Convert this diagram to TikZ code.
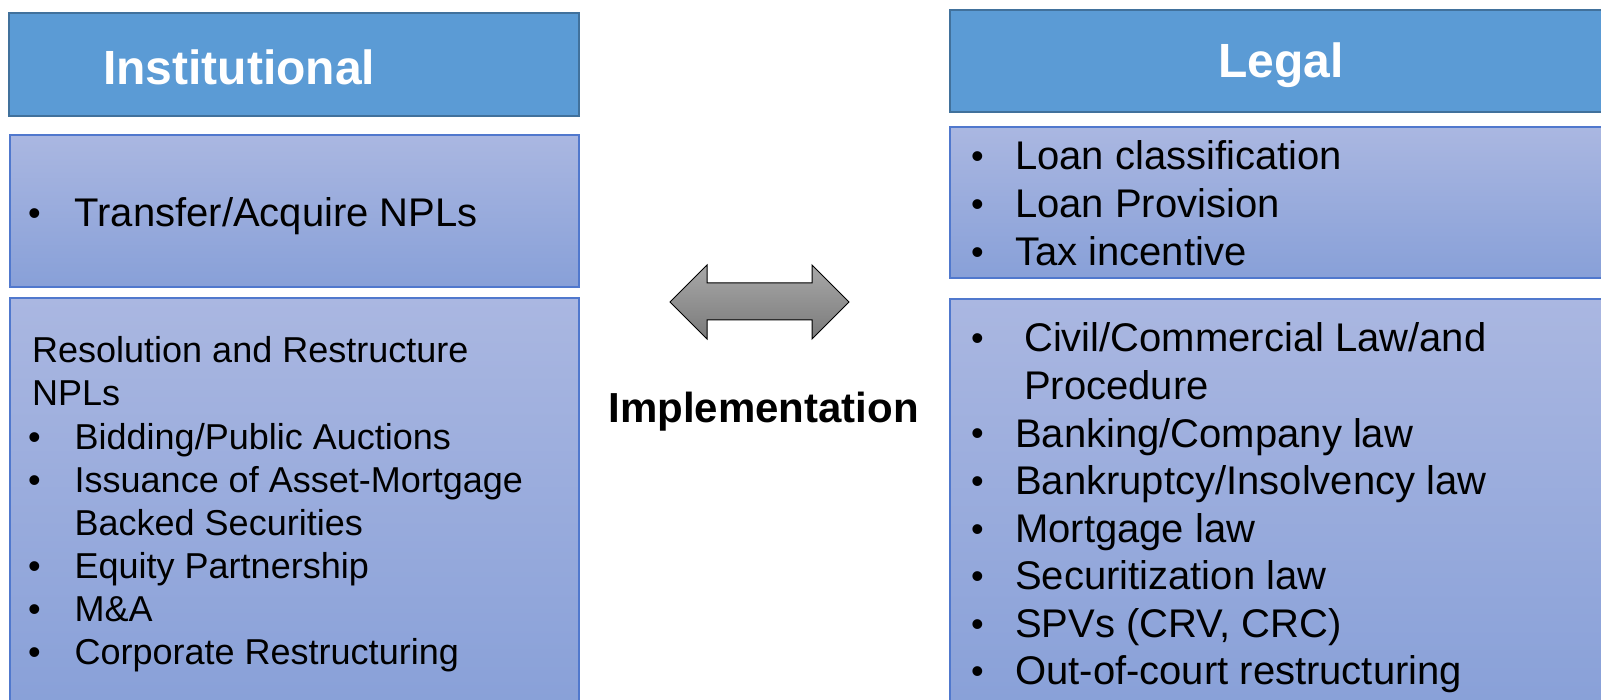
\documentclass[tikz,border=0pt]{standalone}
\usepackage{fontspec}
\setmainfont{Liberation Sans}
\definecolor{hdrfill}{RGB}{91,155,213}
\definecolor{hdrline}{RGB}{65,113,156}
\definecolor{boxtop}{RGB}{170,183,225}
\definecolor{boxbot}{RGB}{136,160,216}
\definecolor{boxline}{RGB}{80,120,205}
\definecolor{arrtop}{RGB}{168,168,168}
\definecolor{arrbot}{RGB}{122,122,122}
\begin{document}
\begin{tikzpicture}[x=1pt,y=-1pt,
  hdr/.style={draw=hdrline,fill=hdrfill,line width=2.5pt},
  cbox/.style={draw=boxline,line width=1.5pt,top color=boxtop,bottom color=boxbot,shading angle=0},
  htxt/.style={inner sep=0pt,font=\fontsize{48}{58}\selectfont\bfseries,text=white},
  btxt/.style={inner sep=0pt,anchor=base west,font=\fontsize{40}{48}\selectfont},
  stxt/.style={inner sep=0pt,anchor=base west,font=\fontsize{36}{43}\selectfont},
  bul/.style={inner sep=0pt,anchor=base west,font=\fontsize{36}{43}\selectfont},
  itxt/.style={inner sep=0pt,anchor=base,font=\fontsize{42}{50}\selectfont\bfseries}
]
\useasboundingbox (0,0) rectangle (1601,700);
% boxes
\path[hdr] (9,13) rectangle (579,116);
\path[cbox] (10,135) rectangle (579,287);
\path[cbox] (10,298) rectangle (579,712);
\path[hdr] (950,10) rectangle (1614,112);
\path[cbox] (950,127) rectangle (1614,278);
\path[cbox] (950,299) rectangle (1614,712);
% headers
\node[htxt,anchor=base west] (insttitle) at (103,85) {Institutional};
\node[htxt,anchor=base] (legaltitle) at (1281,78) {Legal};
% transfer box
\node[bul] (tb) at (28,226) {•};
\node[btxt] (tt) at (74.5,227) {Transfer/Acquire NPLs};
% resolution box
\node[stxt] (r1) at (32,363) {Resolution and Restructure};
\node[stxt] (r2) at (32,406) {NPLs};
\node[bul] (r3b) at (28,449) {•};
\node[stxt] (r3) at (74.5,449) {Bidding/Public Auctions};
\node[bul] (r4b) at (28,492) {•};
\node[stxt] (r4) at (74.5,492) {Issuance of Asset-Mortgage};
\node[stxt] (r5) at (74.5,535) {Backed Securities};
\node[bul] (r6b) at (28,578) {•};
\node[stxt] (r6) at (74.5,578) {Equity Partnership};
\node[bul] (r7b) at (28,621) {•};
\node[stxt] (r7) at (74.5,621) {M\&A};
\node[bul] (r8b) at (28,664) {•};
\node[stxt] (r8) at (74.5,664) {Corporate Restructuring};
% loan box
\node[bul] (l1b) at (971,169) {•};
\node[btxt] (l1) at (1015,170) {Loan classification};
\node[bul] (l2b) at (971,217) {•};
\node[btxt] (l2) at (1015,218) {Loan Provision};
\node[bul] (l3b) at (971,265) {•};
\node[btxt] (l3) at (1015,266) {Tax incentive};
% civil box
\node[bul] (c1b) at (971,351) {•};
\node[btxt] (c1) at (1024,352) {Civil/Commercial Law/and};
\node[btxt] (c2) at (1024,399.5) {Procedure};
\node[bul] (c3b) at (971,446) {•};
\node[btxt] (c3) at (1015,447) {Banking/Company law};
\node[bul] (c4b) at (971,493.5) {•};
\node[btxt] (c4) at (1015,494.5) {Bankruptcy/Insolvency law};
\node[bul] (c5b) at (971,541) {•};
\node[btxt] (c5) at (1015,542) {Mortgage law};
\node[bul] (c6b) at (971,588.5) {•};
\node[btxt] (c6) at (1015,589.5) {Securitization law};
\node[bul] (c7b) at (971,636) {•};
\node[btxt] (c7) at (1015,637) {SPVs (CRV, CRC)};
\node[bul] (c8b) at (971,683.5) {•};
\node[btxt] (c8) at (1015,684.5) {Out-of-court restructuring};
% double arrow
\draw[black,line width=1pt,top color=arrtop,bottom color=arrbot,shading angle=0]
  (670,302) -- (707,265) -- (707,283) -- (812,283) -- (812,265) -- (849,302)
  -- (812,339) -- (812,320) -- (707,320) -- (707,339) -- cycle;
\node[itxt] (impl) at (763.5,422) {Implementation};
\end{tikzpicture}
\end{document}
